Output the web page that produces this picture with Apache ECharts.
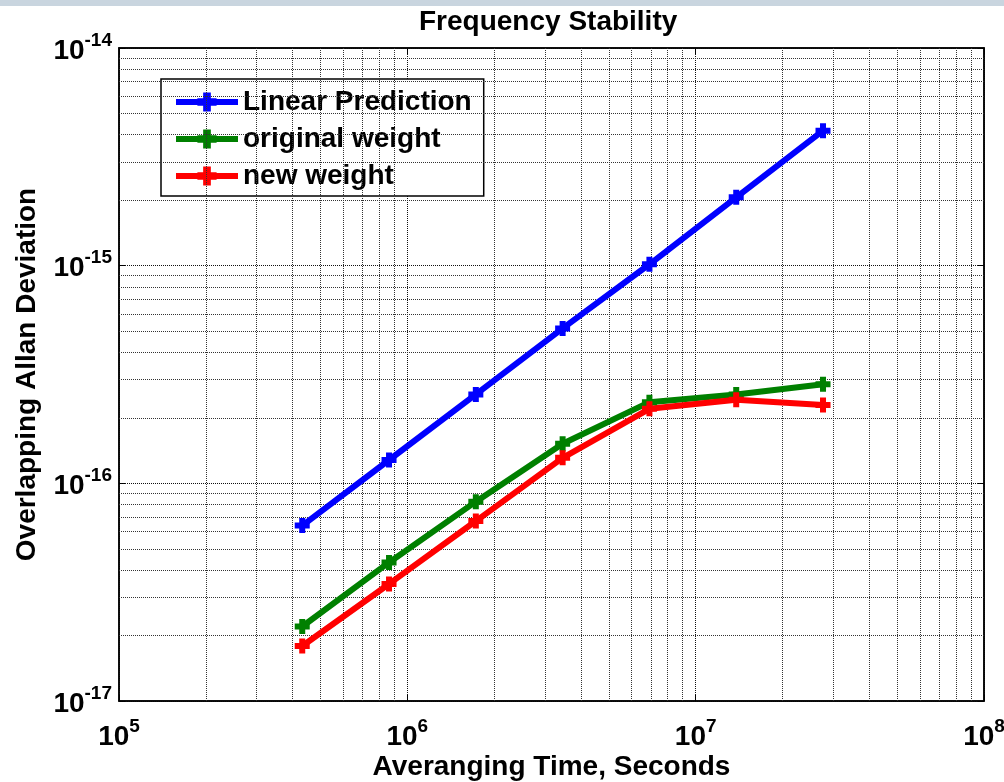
<!DOCTYPE html>
<html>
<head>
<meta charset="utf-8">
<script src="https://cdn.jsdelivr.net/npm/echarts@6/dist/echarts.min.js"></script>
<style>
  html, body { margin: 0; padding: 0; background: #fff; }
  #chart { width: 1004px; height: 782px; }
</style>
</head>
<body>
<div id="chart"></div>
<script>
var chartDom = document.getElementById('chart');
var myChart = echarts.init(chartDom);

// averaging times (s)
var tau = [432000, 864000, 1728000, 3456000, 6912000, 13824000, 27648000];
var linearPrediction = [6.40e-17, 1.28e-16, 2.56e-16, 5.15e-16, 1.015e-15, 2.06e-15, 4.17e-15];
var originalWeight = [2.20e-17, 4.33e-17, 8.24e-17, 1.52e-16, 2.36e-16, 2.56e-16, 2.85e-16];
var newWeight = [1.79e-17, 3.45e-17, 6.71e-17, 1.31e-16, 2.20e-16, 2.42e-16, 2.29e-16];

var xRange = [1e5, 1e8];
var yRange = [1e-17, 1e-14];
var xDecades = [5, 6, 7];
var yDecades = [-17, -16, -15];
var minorSteps = [2, 3, 4, 5, 6, 7, 8, 9];

// minor grid (2..9 in every decade), placed through the axes
var minorLines = [];
xDecades.forEach(function (d) {
    minorSteps.forEach(function (k) {
        var v = k * Math.pow(10, d);
        minorLines.push([{ coord: [v, yRange[0]] }, { coord: [v, yRange[1]] }]);
    });
});
yDecades.forEach(function (d) {
    minorSteps.forEach(function (k) {
        var v = k * Math.pow(10, d);
        minorLines.push([{ coord: [xRange[0], v] }, { coord: [xRange[1], v] }]);
    });
});

var font = 'Liberation Sans';
var plus = 'path://M3,0h4v3h3v4h-3v3h-4v-3h-3v-4h3z';

function pairs(ys) {
    return tau.map(function (t, i) { return [t, ys[i]]; });
}

function powLabel(v) {
    var e = Math.round(Math.log10(v));
    return '{b|10}{s|' + e + '}';
}

var richPow = {
    b: { fontSize: 28, fontWeight: 'bold', fontFamily: font, color: '#000', lineHeight: 34, verticalAlign: 'bottom' },
    s: { fontSize: 19, fontWeight: 'bold', fontFamily: font, color: '#000', verticalAlign: 'top' }
};

function lineSeries(name, color, ys) {
    return {
        name: name,
        type: 'line',
        data: pairs(ys),
        symbol: plus,
        symbolSize: 15,
        showSymbol: true,
        lineStyle: { color: color, width: 6 },
        itemStyle: { color: color },
        z: 5
    };
}

var gridLine = { color: '#111', type: [1, 1], width: 1 };

var option = {
    animation: false,
    graphic: [
        { type: 'rect', shape: { x: 0, y: 0, width: 1004, height: 6 }, style: { fill: '#c9d5df' } }
    ],
    title: {
        text: 'Frequency Stability',
        left: 414,
        top: 3,
        textStyle: { fontFamily: font, fontWeight: 'bold', fontSize: 28, color: '#000' }
    },
    legend: {
        orient: 'vertical',
        left: 161,
        top: 79,
        padding: [9, 12, 6, 12],
        itemWidth: 62,
        itemHeight: 24,
        itemGap: 9,
        backgroundColor: '#fff',
        borderColor: '#000',
        borderWidth: 1.5,
        borderRadius: 0,
        lineStyle: { width: 6 },
        textStyle: { fontFamily: font, fontWeight: 'bold', fontSize: 28, color: '#000' },
        data: ['Linear Prediction', 'original weight', 'new weight']
    },
    grid: {
        left: 119,
        top: 48,
        right: 20,
        bottom: 81,
        outerBoundsMode: 'none',
        containLabel: false,
        show: true,
        borderColor: '#000',
        borderWidth: 1.5
    },
    xAxis: [
        {
            type: 'log',
            logBase: 10,
            min: xRange[0],
            max: xRange[1],
            name: 'Averanging Time, Seconds',
            nameLocation: 'middle',
            nameGap: 52,
            nameMoveOverlap: false,
            nameTextStyle: { fontFamily: font, fontWeight: 'bold', fontSize: 28, color: '#000' },
            axisLine: { lineStyle: { color: '#000', width: 1.5 } },
            axisTick: { inside: true, length: 6, lineStyle: { color: '#000' } },
            axisLabel: { formatter: powLabel, rich: richPow, margin: 16 },
            splitLine: { show: true, lineStyle: gridLine }
        },
        {
            type: 'log',
            logBase: 10,
            min: xRange[0],
            max: xRange[1],
            position: 'top',
            axisLine: { lineStyle: { color: '#000', width: 1.5 } },
            axisTick: { inside: true, length: 6, lineStyle: { color: '#000' } },
            axisLabel: { show: false },
            splitLine: { show: false }
        }
    ],
    yAxis: [
        {
            type: 'log',
            logBase: 10,
            min: yRange[0],
            max: yRange[1],
            name: 'Overlapping Allan Deviation',
            nameLocation: 'middle',
            nameGap: 78,
            nameMoveOverlap: false,
            nameTextStyle: { fontFamily: font, fontWeight: 'bold', fontSize: 28, color: '#000' },
            axisLine: { show: true, lineStyle: { color: '#000', width: 1.5 } },
            axisTick: { show: true, inside: true, length: 6, lineStyle: { color: '#000' } },
            axisLabel: { formatter: powLabel, rich: richPow, margin: 7 },
            splitLine: { show: true, lineStyle: gridLine }
        },
        {
            type: 'log',
            logBase: 10,
            min: yRange[0],
            max: yRange[1],
            position: 'right',
            axisLine: { show: true, lineStyle: { color: '#000', width: 1.5 } },
            axisTick: { show: true, inside: true, length: 6, lineStyle: { color: '#000' } },
            axisLabel: { show: false },
            splitLine: { show: false }
        }
    ],
    series: [
        lineSeries('Linear Prediction', '#0000ff', linearPrediction),
        lineSeries('original weight', '#008000', originalWeight),
        lineSeries('new weight', '#ff0000', newWeight),
        {
            name: 'minor grid',
            type: 'line',
            data: [],
            silent: true,
            markLine: {
                silent: true,
                symbol: 'none',
                animation: false,
                label: { show: false },
                lineStyle: { color: '#333', type: [1, 1], width: 1 },
                data: minorLines
            },
            z: 1
        }
    ]
};

myChart.setOption(option);
</script>
</body>
</html>
